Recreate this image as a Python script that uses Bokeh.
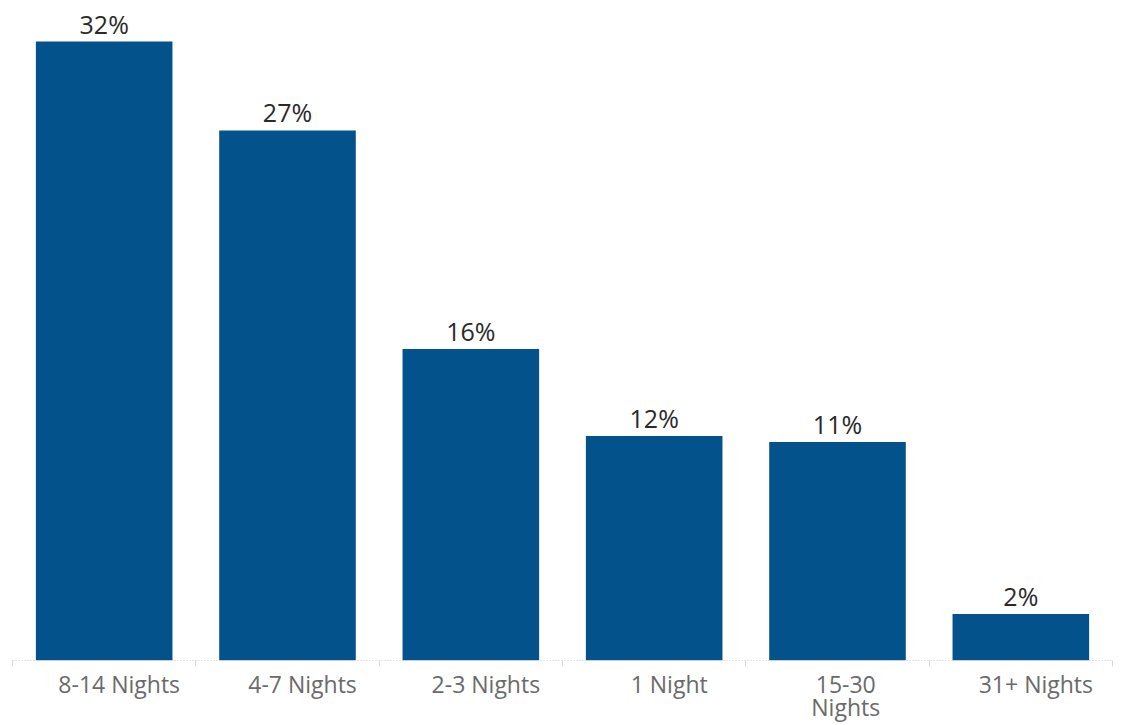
from bokeh.plotting import figure
from bokeh.models import ColumnDataSource, Range1d, FixedTicker
from bokeh.embed import file_html
from bokeh.resources import INLINE
from bokeh.core.properties import value

categories = ["8-14 Nights", "4-7 Nights", "2-3 Nights", "1 Night", "15-30\nNights", "31+ Nights"]
shares = [32.0, 27.4, 16.1, 11.6, 11.3, 2.4]
share_labels = ["32%", "27%", "16%", "12%", "11%", "2%"]

n = len(categories)
xs = [i + 0.5 for i in range(n)]

src = ColumnDataSource(dict(x=xs, top=shares, lab=share_labels))

p = figure(frame_width=1100, frame_height=660, output_backend="svg", toolbar_location=None,
           x_range=Range1d(0, n), y_range=Range1d(0, 34.12),
           min_border_left=12, min_border_right=14, min_border_top=0, min_border_bottom=10)
p.outline_line_color = None
p.background_fill_color = "white"
p.border_fill_color = "white"
p.grid.visible = False
p.yaxis.visible = False

p.vbar(x="x", top="top", width=0.745, bottom=0, source=src, fill_color="#03528c", line_color=None)
p.text(x="x", y="top", text="lab", source=src, text_align="center", text_baseline="bottom",
       y_offset=-1, text_font=value("Open Sans"), text_font_size="25px", text_color="#2a2a2a")

# label positions: shifted right of bar centres (style offset, in category units)
label_ticks = [x + (0.045 if "\n" in c else 0.082) for x, c in zip(xs, categories)]

ax = p.xaxis[0]
ax.ticker = FixedTicker(ticks=label_ticks, minor_ticks=list(range(n + 1)))
ax.major_label_overrides = {t: c for t, c in zip(label_ticks, categories)}
ax.major_label_text_font = "Open Sans"
ax.major_label_text_font_size = "23px"
ax.major_label_text_color = "#6a6a6a"
ax.major_label_text_line_height = 0.72
ax.major_label_standoff = 1
ax.major_tick_line_color = None
ax.major_tick_out = 0
ax.major_tick_in = 0
ax.minor_tick_line_color = "#d8d8d8"
ax.minor_tick_out = 6
ax.minor_tick_in = 0
ax.axis_line_color = "#c8c8c8"
ax.axis_line_dash = "1 2"
ax.axis_line_width = 1

open("out.html", "w").write(file_html(p, INLINE))
